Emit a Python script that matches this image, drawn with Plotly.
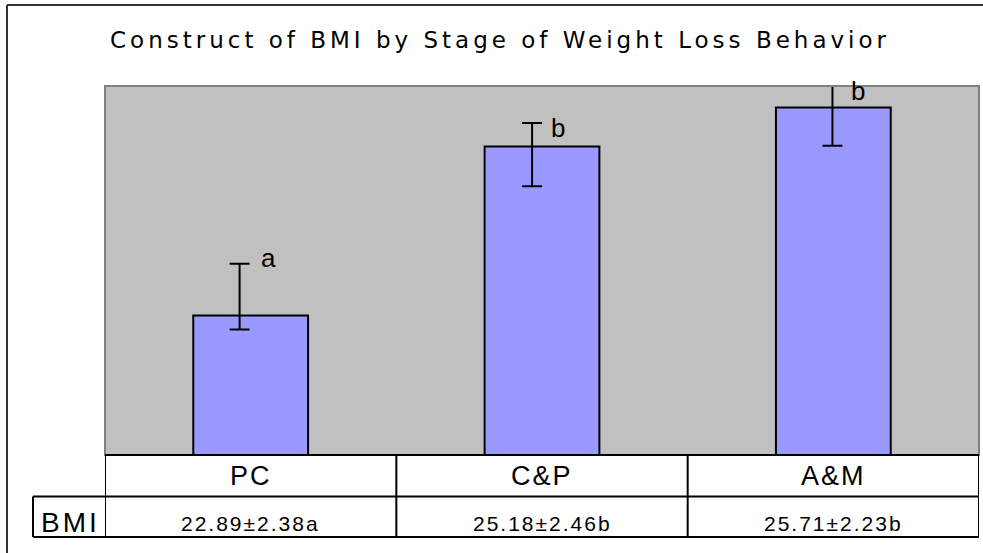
import plotly.graph_objects as go

# ---- data ----
stages = ["PC", "C&P", "A&M"]
bmi_mean = [22.89, 25.18, 25.71]
err_plus = [0.70, 0.32, 0.29]
err_minus = [0.19, 0.54, 0.52]
sig_letters = ["a", "b", "b"]
table_text = ["22.89±2.38a", "25.18±2.46b", "25.71±2.23b"]
row_label = "BMI"
title_text = "Construct of BMI by Stage of Weight Loss Behavior"

# ---- styling / layout helpers ----
W, H = 983, 553
def px_x(p): return p / W
def px_y(p): return 1 - p / H

FONT = "Liberation Sans, Arial, sans-serif"
TFONT = "DejaVu Sans, sans-serif"
bar_w = 0.394
err_shift = [-0.038, -0.034, -0.003]   # error bar drawn slightly left of bar centre
letter_dx = [18, 16, 25]
letter_dy = [6, -5, -5]

def spaced(t, ls):
    return f'<span style="letter-spacing:{ls}px">{t}</span>'

fig = go.Figure()
fig.add_trace(go.Bar(
    x=stages, y=bmi_mean, width=bar_w,
    marker=dict(color="#9999FF", line=dict(color="black", width=2)),
    hoverinfo="skip", showlegend=False,
))
# transparent carrier for the error bars
fig.add_trace(go.Bar(
    x=stages, y=bmi_mean, width=bar_w,
    offset=[-bar_w / 2 + s for s in err_shift],
    marker=dict(color="rgba(0,0,0,0)", line=dict(width=0)),
    error_y=dict(type="data", symmetric=False, array=err_plus, arrayminus=err_minus,
                 color="black", thickness=2, width=10),
    hoverinfo="skip", showlegend=False,
))

annotations = []
for i, s in enumerate(stages):
    annotations.append(dict(
        x=s, y=bmi_mean[i] + err_plus[i], xref="x", yref="y",
        text=sig_letters[i], showarrow=False, xshift=letter_dx[i], yshift=letter_dy[i],
        font=dict(family=FONT, size=26, color="black")))
    annotations.append(dict(
        x=s, y=px_y(476), xref="x", yref="paper", text=spaced(s, 2), showarrow=False,
        xanchor="center", yanchor="middle", font=dict(family=FONT, size=27, color="black")))
    annotations.append(dict(
        x=s, y=px_y(523), xref="x", yref="paper", text=spaced(table_text[i], 2),
        showarrow=False, xanchor="center", yanchor="middle",
        font=dict(family=FONT, size=21, color="black")))
annotations.append(dict(
    x=px_x(70), y=px_y(522), xref="paper", yref="paper", text=spaced(row_label, 3),
    showarrow=False, xanchor="center", yanchor="middle",
    font=dict(family=FONT, size=28, color="black")))
annotations.append(dict(
    x=px_x(500), y=px_y(40), xref="paper", yref="paper", text=spaced(title_text, 4),
    showarrow=False, xanchor="center", yanchor="middle",
    font=dict(family=TFONT, size=23, color="black")))

shapes = []
# plot area border
shapes.append(dict(type="rect", xref="x domain", yref="y domain", x0=0, x1=1, y0=0, y1=1,
                   line=dict(color="#808080", width=2), layer="above"))
# outer frame
shapes.append(dict(type="line", xref="paper", yref="paper", x0=px_x(7), x1=px_x(7),
                   y0=px_y(5), y1=0, line=dict(color="#333333", width=2)))
shapes.append(dict(type="line", xref="paper", yref="paper", x0=px_x(7), x1=1,
                   y0=px_y(5), y1=px_y(5), line=dict(color="#333333", width=2)))
# data table grid
tl = dict(color="black", width=2)
for yy, x0 in [(455, None), (496.5, 33), (537, 33)]:
    if x0 is None:
        shapes.append(dict(type="line", xref="x", yref="paper", x0=-0.5, x1=2.5,
                           y0=px_y(yy), y1=px_y(yy), line=tl))
    else:
        shapes.append(dict(type="line", xref="paper", yref="paper", x0=px_x(x0), x1=px_x(979),
                           y0=px_y(yy), y1=px_y(yy), line=tl))
for k in range(len(stages) + 1):
    shapes.append(dict(type="line", xref="x", yref="paper", x0=k - 0.5, x1=k - 0.5,
                       y0=px_y(455), y1=px_y(537), line=tl))
shapes.append(dict(type="line", xref="paper", yref="paper", x0=px_x(33), x1=px_x(33),
                   y0=px_y(496.5), y1=px_y(537), line=tl))

fig.update_layout(
    width=W, height=H, autosize=False,
    margin=dict(l=0, r=0, t=0, b=0),
    paper_bgcolor="white", plot_bgcolor="#C0C0C0",
    barmode="overlay", showlegend=False,
    xaxis=dict(domain=[px_x(105), px_x(979)], range=[-0.5, 2.5], showticklabels=False,
               showgrid=False, zeroline=False, ticks=""),
    yaxis=dict(domain=[px_y(455), px_y(86)], range=[21, 26], showticklabels=False,
               showgrid=False, zeroline=False, ticks=""),
    annotations=annotations, shapes=shapes,
)
fig.write_html("out.html", config={"displayModeBar": False},
               post_script="document.body.style.margin='0px';document.body.style.overflow='hidden';")
